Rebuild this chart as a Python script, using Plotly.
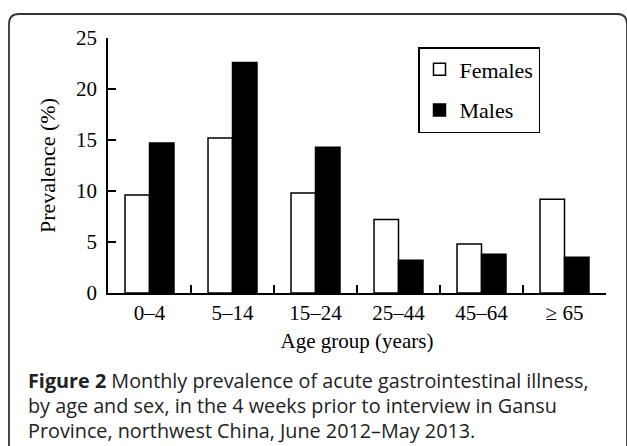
import plotly.graph_objects as go

categories = ["0–4", "5–14", "15–24", "25–44", "45–64", "≥ 65"]
females = [9.6, 15.2, 9.8, 7.2, 4.8, 9.2]
males = [14.7, 22.6, 14.3, 3.2, 3.8, 3.5]

caption_lines = [
    "<b>Figure 2</b> Monthly prevalence of acute gastrointestinal illness,",
    "by age and sex, in the 4 weeks prior to interview in Gansu",
    "Province, northwest China, June 2012–May 2013.",
]

W_FIG, H_FIG = 627, 446
L, R, T, B = 108, 606, 38, 293
PW, PH = R - L, B - T


def px(x):
    return (x - L) / PW


def py(y):
    return (B - y) / PH


SERIF = "Liberation Serif, Times New Roman, serif"

fig = go.Figure()
fig.add_trace(go.Bar(
    x=categories, y=females, name="Females", legendgroup="f",
    marker=dict(color="white", line=dict(color="black", width=1.5)),
))
fig.add_trace(go.Bar(
    x=categories, y=males, name="Males", legendgroup="m",
    marker=dict(color="black", line=dict(color="black", width=1.5)),
))

# outer rounded frame
r = 10
x0, y0, x1, y1 = 9, 14, 627, 470
path = (
    f"M {px(x0)},{py(y1)} L {px(x0)},{py(y0 + r)} "
    f"Q {px(x0)},{py(y0)} {px(x0 + r)},{py(y0)} "
    f"L {px(x1 - r)},{py(y0)} Q {px(x1)},{py(y0)} {px(x1)},{py(y0 + r)} "
    f"L {px(x1)},{py(y1)}"
)
shapes = [dict(type="path", xref="paper", yref="paper", path=path,
               line=dict(color="#333333", width=1.8), layer="above")]

annotations = []
for line, yc in zip(caption_lines, [380, 405, 431]):
    annotations.append(dict(
        text=line, xref="paper", yref="paper", x=px(26), y=py(yc),
        xanchor="left", yanchor="middle", showarrow=False,
        font=dict(family="Open Sans, sans-serif", size=19.8, color="#222222"),
    ))

fig.update_layout(
    width=W_FIG, height=H_FIG,
    margin=dict(l=L, r=W_FIG - R, t=T, b=H_FIG - B, autoexpand=False),
    paper_bgcolor="white", plot_bgcolor="white",
    barmode="group", bargap=0.41, bargroupgap=0,
    font=dict(family=SERIF, size=21, color="black"),
    showlegend=True,
    legend=dict(
        x=px(418), y=py(47), xanchor="left", yanchor="top",
        bordercolor="black", borderwidth=1.5, bgcolor="white",
        font=dict(family=SERIF, size=22, color="black"),
        tracegroupgap=9, itemwidth=30,
    ),
    shapes=shapes,
    annotations=annotations,
)
fig.update_xaxes(
    type="category", range=[-0.5, 5.5], tickson="boundaries",
    ticks="inside", ticklen=8, tickwidth=1.5, tickcolor="black",
    showline=True, linewidth=1.5, linecolor="black", showgrid=False,
    title=dict(text="Age group (years)", standoff=9,
               font=dict(family=SERIF, size=21)),
    tickfont=dict(family=SERIF, size=21),
)
fig.update_yaxes(
    range=[0, 25], dtick=5, tick0=0,
    ticks="inside", ticklen=8, tickwidth=1.5, tickcolor="black",
    showline=True, linewidth=1.5, linecolor="black", showgrid=False,
    zeroline=False, ticklabelstandoff=5,
    title=dict(text="Prevalence (%)", standoff=14,
               font=dict(family=SERIF, size=22)),
    tickfont=dict(family=SERIF, size=21),
)

fig.write_html(
    "out.html",
    config={"displayModeBar": False},
    post_script="document.body.style.margin='0';document.body.style.overflow='hidden';",
)
